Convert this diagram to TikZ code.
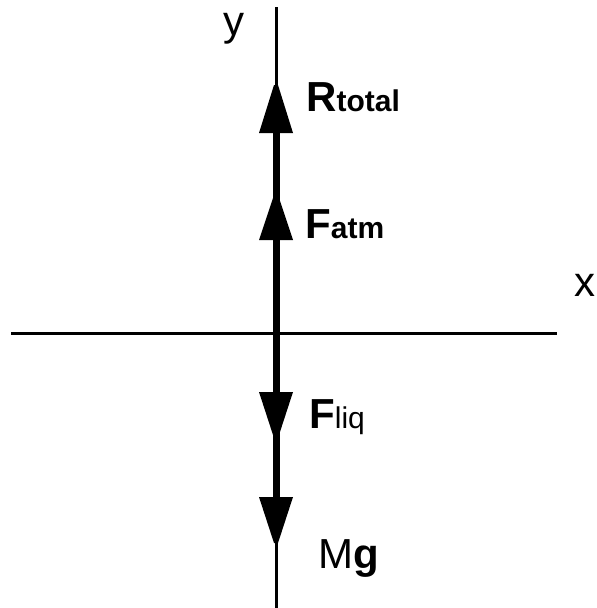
\documentclass[tikz,border=0pt]{standalone}
\usepackage{fontspec}
\setmainfont{Liberation Sans}
\begin{document}
\begin{tikzpicture}[x=1pt,y=-1pt,
  axis/.style={line width=3pt},
  force/.style={line width=7pt},
  head/.style={fill=black},
  lbl/.style={anchor=base west, inner sep=0pt, font=\fontsize{42}{50}\selectfont},
  sub/.style={}]
\useasboundingbox (0,0) rectangle (597,608);
% axes
\coordinate (ytop) at (276,7);
\coordinate (ybot) at (276,608);
\coordinate (xl) at (11,333);
\coordinate (xr) at (557,333);
\draw[axis] (ytop) -- (ybot);
\draw[axis] (xl) -- (xr);
% force line
\coordinate (fs) at (276,130);
\coordinate (fe) at (276,500);
\draw[force] (fs) -- (fe);
% arrowheads
\fill[head] (274,85) -- (278,85) -- (293,133) -- (259,133) -- cycle;
\fill[head] (274,195) -- (278,195) -- (293,240) -- (259,240) -- cycle;
\fill[head] (259,392) -- (293,392) -- (278,438) -- (274,438) -- cycle;
\fill[head] (259,497) -- (293,497) -- (278,543) -- (274,543) -- cycle;
% labels
\node[lbl] (ylab) at (223,35) {y};
\node[lbl] (xlab) at (574,296) {x};
\node[lbl] (R) at (306,111) {\bfseries R\fontsize{30}{36}\selectfont total};
\node[lbl] (Fa) at (305,238) {\bfseries F\fontsize{30}{36}\selectfont atm};
\node[lbl] (Fl) at (309,428) {\textbf{F}\fontsize{30}{36}\selectfont liq};
\node[lbl] (Mg) at (318,568) {M\textbf{g}};
\end{tikzpicture}
\end{document}
